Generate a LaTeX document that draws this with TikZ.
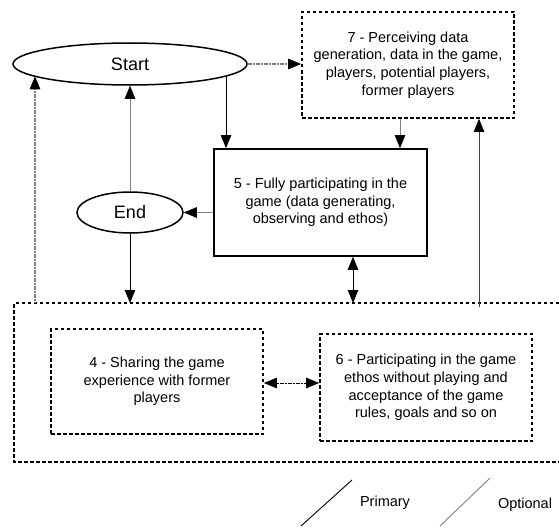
\documentclass[tikz,border=0pt]{standalone}
\usepackage{fontspec}
\setmainfont{Liberation Sans}
\usetikzlibrary{shapes.geometric,arrows.meta}
\definecolor{lgray}{gray}{0.5}
\tikzset{
  boxtext/.style={font=\fontsize{14.5}{17.7}\selectfont, align=center, inner sep=0pt},
  dbox/.style={boxtext, draw, line width=1.7pt, dash pattern=on 3.5pt off 2.5pt, rectangle},
  sbox/.style={boxtext, draw, line width=1.7pt, rectangle},
  ell/.style={draw, ellipse, line width=1.5pt, inner sep=0pt, font=\fontsize{18}{21}\selectfont},
  tip/.style={-{Triangle[length=13pt,width=10.5pt,color=black]}},
  dtip/.style={{Triangle[length=13pt,width=10.5pt,color=black]}-{Triangle[length=13pt,width=10.5pt,color=black]}},
  conn/.style={line width=0.9pt, black},
  gconn/.style={line width=0.9pt, lgray},
  gdot/.style={line width=1.1pt, lgray, dash pattern=on 1.2pt off 0.4pt},
}
\begin{document}
\begin{tikzpicture}[x=1pt,y=-1pt]
\useasboundingbox (0,0) rectangle (559,527);
% nodes
\node[ell, minimum width=234pt, minimum height=42pt] (start) at (130,64) {Start};
\node[ell, minimum width=106pt, minimum height=41pt] (end) at (130,212.5) {End};
\node[dbox, minimum width=212pt, minimum height=106pt] (b7) at (408,65)
  {7 - Perceiving data\\generation, data in the game,\\players, potential players,\\former players};
\node[sbox, minimum width=213pt, minimum height=107pt] (b5) at (320.5,202.5)
  {5 - Fully participating in the\\game (data generating,\\observing and ethos)};
\node[dbox, minimum width=212pt, minimum height=105pt] (b4) at (157,381.5)
  {4 - Sharing the game\\experience with former\\players};
\node[dbox, minimum width=212pt, minimum height=107pt] (b6) at (426,387.5)
  {6 - Participating in the game\\ethos without playing and\\acceptance of the game\\rules, goals and so on};
% outer group box (open on the right)
\draw[line width=1.7pt, dash pattern=on 3.5pt off 2.5pt] (565,303) -- (14,303) -- (14,462) -- (565,462);
\coordinate (otop) at (0,303);
\coordinate (otopb) at (0,307);
% helper coordinates
\coordinate (s5) at (226,76);
\coordinate (sl) at (35,76.3);
\coordinate (c75) at (400,0);
\coordinate (c53) at (353,0);
\coordinate (c479) at (479,0);
\coordinate (c46) at (0,383);
% connectors
\draw[gdot, tip] (start.east) -- (start.east -| b7.west);
\draw[conn, tip] (s5) -- (s5 |- b5.north);
\draw[gconn, tip] (b7.south -| c75) -- (b5.north -| c75);
\draw[gconn, tip] (end.north) -- (start.south);
\draw[gconn, tip] (end.east -| b5.west) -- (end.east);
\draw[conn, tip] (end.south) -- (end.south |- otop);
\draw[gdot, tip] (sl |- otop) -- (sl);
\draw[conn, dtip] (b5.south -| c53) -- (otop -| c53);
\draw[line width=0.8pt, black!75, tip] (otopb -| c479) -- (b7.south -| c479);
\draw[line width=0.9pt, black, dash pattern=on 1.2pt off 0.4pt, dtip] (c46 -| b4.east) -- (c46 -| b6.west);
% legend
\coordinate (l1a) at (301,526);
\coordinate (l1b) at (352,480);
\coordinate (l2a) at (440,526);
\coordinate (l2b) at (490,478);
\draw[line width=0.9pt, black] (l1a) -- (l1b);
\draw[line width=0.9pt, lgray] (l2a) -- (l2b);
\node[font=\fontsize{14.5}{17.7}\selectfont, inner sep=0pt] (lp) at (385,503) {Primary};
\node[font=\fontsize{14.5}{17.7}\selectfont, inner sep=0pt] (lo) at (525,505) {Optional};
\end{tikzpicture}
\end{document}
